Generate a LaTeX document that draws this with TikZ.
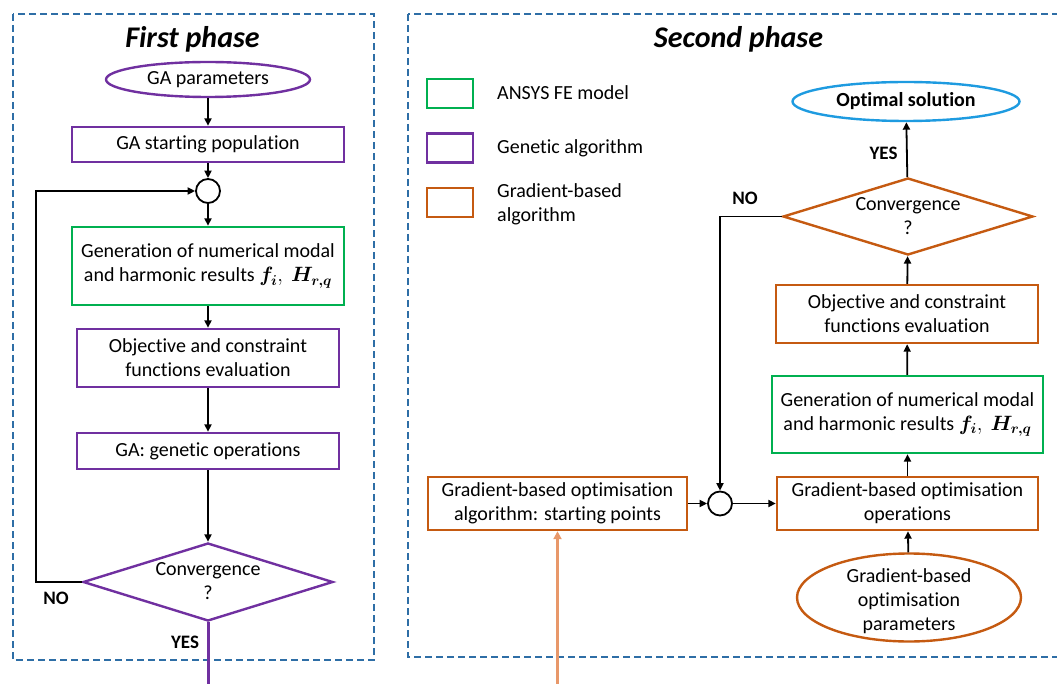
\documentclass[tikz,border=0pt]{standalone}
\usepackage{fontspec}
\setmainfont{Carlito}[Ligatures=NoCommon]
\usepackage{bm}
\usetikzlibrary{shapes.geometric,arrows.meta}

\definecolor{gapurple}{HTML}{7030A0}
\definecolor{fegreen}{HTML}{00B050}
\definecolor{gborange}{HTML}{C55A11}
\definecolor{gblight}{HTML}{E8986A}
\definecolor{solblue}{HTML}{1E9BE0}
\definecolor{framecol}{HTML}{2E6EA6}

% text block whose height does not enlarge the surrounding shape
\newcommand{\flattext}[2]{\smash{\raisebox{#1}{\begin{tabular}{@{}c@{}}#2\end{tabular}}}}

\begin{document}
\begin{tikzpicture}[x=1pt,y=-1pt,
  base/.style={font=\fontsize{20}{24}\selectfont, text=black},
  box/.style={base, draw=#1, line width=2.4pt, rectangle, inner sep=0pt, align=center},
  oval/.style={base, draw=#1, line width=2.4pt, ellipse, inner sep=0pt},
  decide/.style={base, draw=#1, line width=2.4pt, diamond, aspect=3, inner sep=0pt},
  joint/.style={draw=black, line width=1.8pt, circle, minimum size=24pt, inner sep=0pt},
  flow/.style={draw=black, line width=1.8pt, -{Triangle[length=7.5pt,width=7pt]}},
  frame/.style={draw=framecol, line width=1.8pt, dash pattern=on 7pt off 4pt},
  answer/.style={font=\fontsize{19}{22}\selectfont\bfseries},
  title/.style={font=\fontsize{30}{36}\selectfont\bfseries\itshape, anchor=base}
]
\useasboundingbox (0,0) rectangle (1057,684);
\clip (0,0) rectangle (1057,684);

% phase frames
\draw[frame] (13,14) rectangle (374,660);
\draw[frame] (408,14) rectangle (1075,657);

\node[title] (t1) at (192.5,48) {First phase};
\node[title] (t2) at (738.5,48) {Second phase};

% ---------- first phase: genetic algorithm ----------
\node[oval=gapurple, minimum width=204pt, minimum height=35pt] (gapar) at (208,79.5) {GA parameters};
\node[box=gapurple, minimum width=272pt, minimum height=35pt] (gastart) at (208,144.5) {GA starting population};
\node[joint] (j1) at (208,191) {};
\node[box=fegreen, minimum width=272pt, minimum height=78pt] (fe1) at (208,266) {Generation of numerical modal\\and harmonic results $\bm{f_i},\ \bm{H_{r,q}}$};
\node[box=gapurple, minimum width=262pt, minimum height=58pt] (obj1) at (208,358) {Objective and constraint\\functions evaluation};
\node[box=gapurple, minimum width=262pt, minimum height=36pt] (gaops) at (208,451) {GA: genetic operations};
\node[decide=gapurple, minimum width=250pt, minimum height=78pt] (conv1) at (208,582) {\flattext{-6pt}{Convergence\\?}};

\node[answer] (no1) at (56,598.5) {NO};
\node[answer] (yes1) at (185,642) {YES};

\coordinate (loop1) at (36,582);
\coordinate (purpleend) at (208,690);

\draw[flow] (gapar) -- (gastart);
\draw[flow] (gastart) -- (j1);
\draw[flow] (j1) -- (fe1);
\draw[flow] (fe1) -- (obj1);
\draw[flow] (obj1) -- (gaops);
\draw[flow] (gaops) -- (conv1);
\draw[flow] (conv1.west) -- (loop1) |- (j1.west);
\draw[gapurple, line width=3pt] (conv1.south) -- (purpleend);

% ---------- legend ----------
\node[box=fegreen, minimum width=46pt, minimum height=29pt] (lg1) at (450,93.5) {};
\node[box=gapurple, minimum width=46pt, minimum height=29pt] (lg2) at (450,148) {};
\node[box=gborange, minimum width=46pt, minimum height=29pt] (lg3) at (450,202.5) {};
\node[base, anchor=base west, inner sep=0pt] (lt1) at (497,100) {ANSYS FE model};
\node[base, anchor=base west, inner sep=0pt] (lt2) at (497,154) {Genetic algorithm};
\node[base, anchor=west, inner sep=0pt, align=left] (lt3) at (497,204) {Gradient-based\\algorithm};

% ---------- second phase: gradient-based algorithm ----------
\node[oval=solblue, minimum width=227pt, minimum height=39pt, font=\fontsize{20}{24}\selectfont\bfseries] (opt) at (906,101.5) {Optimal solution};
\node[decide=gborange, minimum width=250pt, minimum height=77pt] (conv2) at (908,216.5) {\flattext{-6pt}{Convergence\\?}};
\node[box=gborange, minimum width=262pt, minimum height=58pt] (obj2) at (907,314) {Objective and constraint\\functions evaluation};
\node[box=fegreen, minimum width=271pt, minimum height=77pt] (fe2) at (907.5,414.5) {Generation of numerical modal\\and harmonic results $\bm{f_i},\ \bm{H_{r,q}}$};
\node[box=gborange, minimum width=261pt, minimum height=53pt] (ops) at (907.5,503.5) {Gradient-based optimisation\\operations};
\node[oval=gborange, minimum width=224pt, minimum height=88pt] (gbpar) at (909,597.5) {\flattext{-9pt}{Gradient-based\\optimisation\\parameters}};
\node[joint] (j2) at (720,503.5) {};
\node[box=gborange, minimum width=259pt, minimum height=53pt] (gbstart) at (557.5,503.5) {Gradient-based optimisation\\algorithm: starting points};

\node[answer] (no2) at (745,198.5) {NO};
\node[answer] (yes2) at (883.5,153.5) {YES};

\coordinate (loop2) at (720,216.5);
\coordinate (orangestart) at (557.5,690);

\draw[flow] (gbstart) -- (j2);
\draw[flow] (j2) -- (ops);
\draw[flow] (gbpar) -- (ops);
\draw[flow] (ops) -- (fe2);
\draw[flow] (fe2) -- (obj2);
\draw[flow] (obj2) -- (conv2);
\draw[flow] (conv2) -- (opt);
\draw[flow] (conv2.west) -- (loop2) -- (j2.north);
\draw[gblight, line width=3pt, -{Triangle[length=8pt,width=8pt]}] (orangestart) -- (gbstart.south);

\end{tikzpicture}
\end{document}
